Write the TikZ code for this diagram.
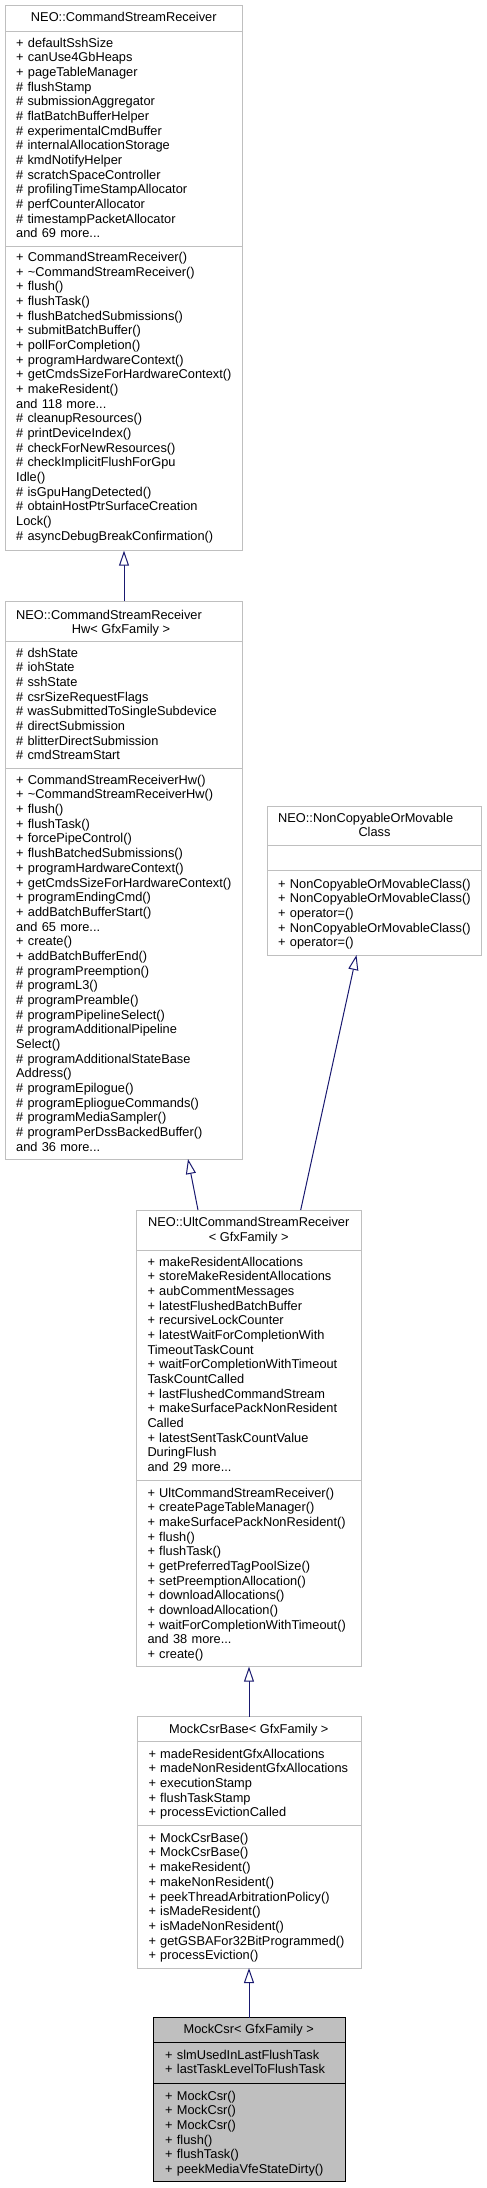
\documentclass[tikz,border=0pt]{standalone}
\usepackage{fontspec}
\setmainfont{Liberation Sans}
\usetikzlibrary{arrows.meta,calc}
\definecolor{greyb}{HTML}{BFBFBF}
\definecolor{mblue}{HTML}{191970}
\tikzset{
  cbox/.style={draw=greyb, line width=1pt, fill=white, anchor=north west, inner sep=0pt, outer sep=0pt},
  mainbox/.style={draw=black, line width=1pt, fill=greyb, anchor=north west, inner sep=0pt, outer sep=0pt},
  sepline/.style={draw=greyb, line width=1pt},
  mainsep/.style={draw=black, line width=1pt},
  txt/.style={anchor=base west, text width=320pt, align=left, inner sep=0pt, font=\fontsize{12.8}{14.67}\selectfont},
  ttl/.style={anchor=base, inner sep=0pt, font=\fontsize{12.8}{14.67}\selectfont},
  ttlw/.style={anchor=base west, inner sep=0pt, font=\fontsize{12.8}{14.67}\selectfont},
  inh/.style={draw=mblue, line width=1pt, -{Triangle[open, length=15pt, width=10pt, fill=white]}}
}
\begin{document}
\begin{tikzpicture}[x=1pt,y=-1pt]
\useasboundingbox (0,0) rectangle (487,2188);
% boxes
\node[cbox, minimum width=237.7pt, minimum height=545.7pt] (csr) at (5,5) {};
\node[cbox, minimum width=237.7pt, minimum height=558pt] (hw) at (5,601) {};
\node[cbox, minimum width=214.7pt, minimum height=149pt] (nc) at (267,806) {};
\node[cbox, minimum width=225pt, minimum height=456.7pt] (ult) at (136.7,1210) {};
\node[cbox, minimum width=224pt, minimum height=251.3pt] (base) at (137,1716.7) {};
\node[mainbox, minimum width=191.7pt, minimum height=164pt] (mock) at (153.3,2017.7) {};
% separators
\draw[sepline] (csr.west |- 0,31.7) -- (csr.east |- 0,31.7);
\draw[sepline] (csr.west |- 0,246.7) -- (csr.east |- 0,246.7);
\draw[sepline] (hw.west |- 0,641.7) -- (hw.east |- 0,641.7);
\draw[sepline] (hw.west |- 0,768.3) -- (hw.east |- 0,768.3);
\draw[sepline] (nc.west |- 0,845.7) -- (nc.east |- 0,845.7);
\draw[sepline] (nc.west |- 0,870.7) -- (nc.east |- 0,870.7);
\draw[sepline] (ult.west |- 0,1250) -- (ult.east |- 0,1250);
\draw[sepline] (ult.west |- 0,1480.7) -- (ult.east |- 0,1480.7);
\draw[sepline] (base.west |- 0,1741.7) -- (base.east |- 0,1741.7);
\draw[sepline] (base.west |- 0,1825.7) -- (base.east |- 0,1825.7);
\draw[mainsep] (mock.west |- 0,2042.7) -- (mock.east |- 0,2042.7);
\draw[mainsep] (mock.west |- 0,2083.3) -- (mock.east |- 0,2083.3);
% CSR
\node[ttl] (csrt) at (123.8,21.6) {NEO::CommandStreamReceiver};
\node[txt] (csra) at (16,47) {+ defaultSshSize\\+ canUse4GbHeaps\\+ pageTableManager\\\# flushStamp\\\# submissionAggregator\\\# flatBatchBufferHelper\\\# experimentalCmdBuffer\\\# internalAllocationStorage\\\# kmdNotifyHelper\\\# scratchSpaceController\\\# profilingTimeStampAllocator\\\# perfCounterAllocator\\\# timestampPacketAllocator\\and 69 more...};
\node[txt] (csrm) at (16,261.6) {+ CommandStreamReceiver()\\+ \textasciitilde CommandStreamReceiver()\\+ flush()\\+ flushTask()\\+ flushBatchedSubmissions()\\+ submitBatchBuffer()\\+ pollForCompletion()\\+ programHardwareContext()\\+ getCmdsSizeForHardwareContext()\\+ makeResident()\\and 118 more...\\\# cleanupResources()\\\# printDeviceIndex()\\\# checkForNewResources()\\\# checkImplicitFlushForGpu\\Idle()\\\# isGpuHangDetected()\\\# obtainHostPtrSurfaceCreation\\Lock()\\\# asyncDebugBreakConfirmation()};
% HW
\node[ttlw] (hwt1) at (16,619.3) {NEO::CommandStreamReceiver};
\node[ttl] (hwt2) at (121,633.6) {Hw< GfxFamily >};
\node[txt] (hwa) at (16,657) {\# dshState\\\# iohState\\\# sshState\\\# csrSizeRequestFlags\\\# wasSubmittedToSingleSubdevice\\\# directSubmission\\\# blitterDirectSubmission\\\# cmdStreamStart};
\node[txt] (hwm) at (16,784.3) {+ CommandStreamReceiverHw()\\+ \textasciitilde CommandStreamReceiverHw()\\+ flush()\\+ flushTask()\\+ forcePipeControl()\\+ flushBatchedSubmissions()\\+ programHardwareContext()\\+ getCmdsSizeForHardwareContext()\\+ programEndingCmd()\\+ addBatchBufferStart()\\and 65 more...\\+ create()\\+ addBatchBufferEnd()\\\# programPreemption()\\\# programL3()\\\# programPreamble()\\\# programPipelineSelect()\\\# programAdditionalPipeline\\Select()\\\# programAdditionalStateBase\\Address()\\\# programEpilogue()\\\# programEpliogueCommands()\\\# programMediaSampler()\\\# programPerDssBackedBuffer()\\and 36 more...};
% NonCopyable
\node[ttlw] (nct1) at (278,822) {NEO::NonCopyableOrMovable};
\node[ttl] (nct2) at (374.5,836.6) {Class};
\node[txt] (ncm) at (278,888.3) {+ NonCopyableOrMovableClass()\\+ NonCopyableOrMovableClass()\\+ operator=()\\+ NonCopyableOrMovableClass()\\+ operator=()};
% Ult
\node[ttl] (ultt1) at (248.7,1226.3) {NEO::UltCommandStreamReceiver};
\node[ttl] (ultt2) at (248.7,1241.3) {< GfxFamily >};
\node[txt] (ulta) at (147.3,1266) {+ makeResidentAllocations\\+ storeMakeResidentAllocations\\+ aubCommentMessages\\+ latestFlushedBatchBuffer\\+ recursiveLockCounter\\+ latestWaitForCompletionWith\\TimeoutTaskCount\\+ waitForCompletionWithTimeout\\TaskCountCalled\\+ lastFlushedCommandStream\\+ makeSurfacePackNonResident\\Called\\+ latestSentTaskCountValue\\DuringFlush\\and 29 more...};
\node[txt] (ultm) at (147.3,1497) {+ UltCommandStreamReceiver()\\+ createPageTableManager()\\+ makeSurfacePackNonResident()\\+ flush()\\+ flushTask()\\+ getPreferredTagPoolSize()\\+ setPreemptionAllocation()\\+ downloadAllocations()\\+ downloadAllocation()\\+ waitForCompletionWithTimeout()\\and 38 more...\\+ create()};
% MockCsrBase
\node[ttl] (baset) at (248.8,1733.3) {MockCsrBase< GfxFamily >};
\node[txt] (basea) at (148.3,1758) {+ madeResidentGfxAllocations\\+ madeNonResidentGfxAllocations\\+ executionStamp\\+ flushTaskStamp\\+ processEvictionCalled};
\node[txt] (basem) at (148.3,1842.3) {+ MockCsrBase()\\+ MockCsrBase()\\+ makeResident()\\+ makeNonResident()\\+ peekThreadArbitrationPolicy()\\+ isMadeResident()\\+ isMadeNonResident()\\+ getGSBAFor32BitProgrammed()\\+ processEviction()};
% MockCsr
\node[ttl] (mockt) at (248.7,2033.3) {MockCsr< GfxFamily >};
\node[txt] (mocka) at (165,2059.3) {+ slmUsedInLastFlushTask\\+ lastTaskLevelToFlushTask};
\node[txt] (mockm) at (165,2100) {+ MockCsr()\\+ MockCsr()\\+ MockCsr()\\+ flush()\\+ flushTask()\\+ peekMediaVfeStateDirty()};
% inheritance edges
\draw[inh] ($(hw.north west)+(119,0)$) -- ($(csr.south west)+(119,0)$);
\draw[inh] ($(ult.north west)+(61.3,0)$) -- ($(hw.south west)+(183,0)$);
\draw[inh] ($(ult.north west)+(164,0)$) -- ($(nc.south west)+(89.5,0)$);
\draw[inh] ($(base.north west)+(112,0)$) -- ($(ult.south west)+(112.3,0)$);
\draw[inh] ($(mock.north west)+(95.7,0)$) -- ($(base.south west)+(112,0)$);
\end{tikzpicture}
\end{document}
